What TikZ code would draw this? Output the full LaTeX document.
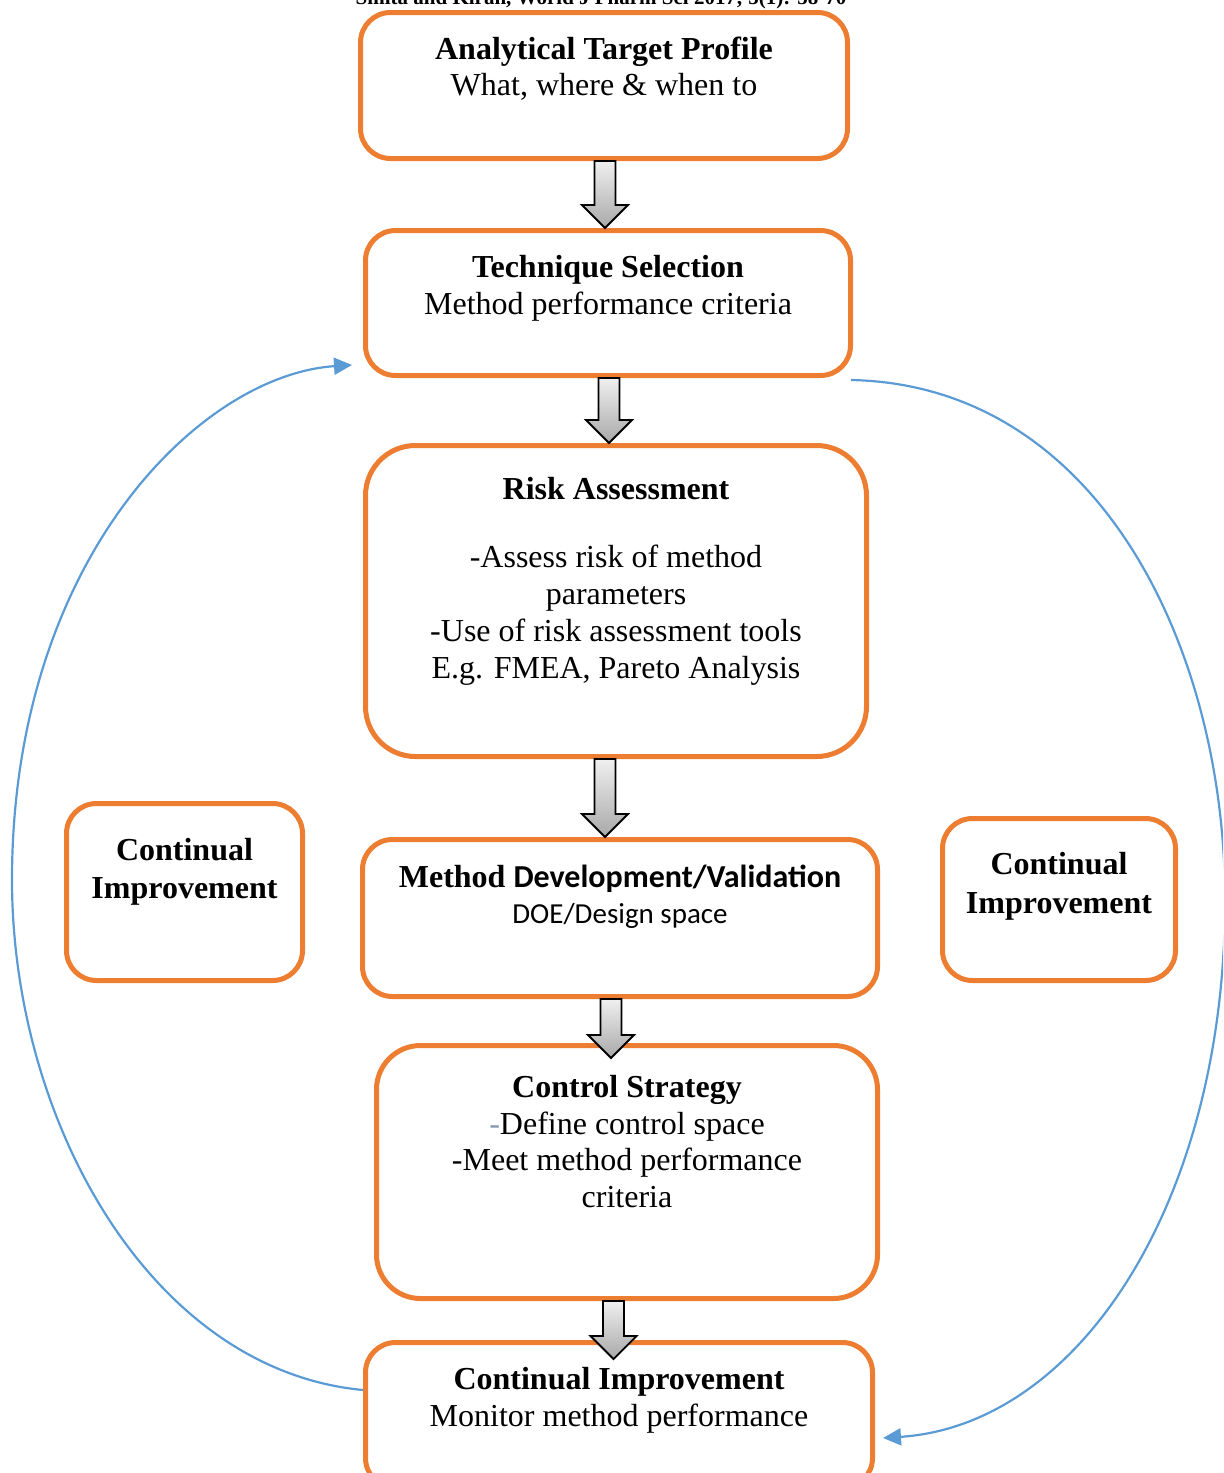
\documentclass[tikz,border=0pt]{standalone}
\usepackage{fontspec}
\setmainfont{Liberation Serif}
\newfontfamily\calibri{Carlito}
\usetikzlibrary{fit,calc,arrows.meta}
\definecolor{boxorange}{HTML}{ED7D31}
\definecolor{loopblue}{HTML}{5B9BD5}
\definecolor{dashblue}{HTML}{8497B0}

% grey block arrow from the bottom of one box to the top of the next
% #1 source node, #2 target node, #3 x position, #4 extra reach of the tip into the target
\newcommand\blockarrow[4]{%
  \path[blockarr] let \p1=(#1.south), \p2=(#2.north) in
    ({#3*0.5pt-5.25pt},\y1) -- ({#3*0.5pt+5.25pt},\y1)
    -- ({#3*0.5pt+5.25pt},{\y2-#4*0.5pt+11.5pt}) -- ({#3*0.5pt+11.5pt},{\y2-#4*0.5pt+11.5pt})
    -- ({#3*0.5pt},{\y2-#4*0.5pt})
    -- ({#3*0.5pt-11.5pt},{\y2-#4*0.5pt+11.5pt}) -- ({#3*0.5pt-5.25pt},{\y2-#4*0.5pt+11.5pt})
    -- cycle;}

\begin{document}
\begin{tikzpicture}[x=0.5pt,y=-0.5pt,
  box/.style={draw=boxorange, line width=2.5pt, rounded corners=15pt, inner sep=0pt},
  txt/.style={anchor=base, inner sep=0pt, font=\fontsize{16}{18.5}\selectfont},
  ttl/.style={anchor=base, inner sep=0pt, font=\fontsize{16}{18.5}\selectfont\bfseries},
  loop/.style={draw=loopblue, line width=1.1pt, -{Triangle[length=9pt,width=8.5pt]}},
  blockarr/.style={draw=black, line width=0.9pt, top color=black!6, bottom color=black!34, line join=miter}
]
\useasboundingbox (0,0) rectangle (1223,1473);
\clip (0,0) rectangle (1223,1473);

% running head
\node[anchor=base, inner sep=0pt, font=\fontsize{10.5}{12}\selectfont\bfseries] (hdr) at (601,4)
  {Smita and Kiran, World J Pharm Sci 2017; 5(1): 58-70};

% boxes
\node[box, fit={(360.5,12.5) (847.5,158.5)}] (atp) {};
\node[box, fit={(365.5,230.5) (850.5,375.5)}] (tech) {};
\node[box, rounded corners=25pt, fit={(365.5,445.5) (866.5,756.5)}] (risk) {};
\node[box, fit={(362.5,839.5) (877.5,996.5)}] (mdv) {};
\node[box, rounded corners=22pt, fit={(376.5,1045.5) (877.5,1298.5)}] (ctrl) {};
\node[box, fit={(365.5,1342.5) (872.5,1488)}] (ci) {};
\node[box, fit={(66.5,803.5) (302.5,980.5)}] (cil) {};
\node[box, fit={(942.5,818.5) (1175.5,980.5)}] (cir) {};

% texts
\node[ttl] (atpT) at (604,59) {Analytical Target Profile};
\node[txt] (atp1) at (604,95) {What, where \& when to};

\node[ttl] (techT) at (608,277) {Technique Selection};
\node[txt] (tech1) at (608,314) {Method performance criteria};

\node[ttl] (riskT) at (616,499) {Risk Assessment};
\node[txt] (risk1) at (616,567) {-Assess risk of method};
\node[txt] (risk2) at (616,604) {parameters};
\node[txt] (risk3) at (616,641) {-Use of risk assessment tools};
\node[txt] (risk4) at (616,678) {E.g. FMEA, Pareto Analysis};

\node[ttl] (mdvT) at (620,887) {Method {\calibri Development/Validation}};
\node[anchor=base, inner sep=0pt, font=\fontsize{14.5}{17}\selectfont\calibri] (mdv1) at (620,923) {DOE/Design space};

\node[ttl] (ctrlT) at (627,1097) {Control Strategy};
\node[txt] (ctrl1) at (627,1134) {\textcolor{dashblue}{-}Define control space};
\node[txt] (ctrl2) at (627,1170) {-Meet method performance};
\node[txt] (ctrl3) at (627,1207) {criteria};

\node[ttl] (ciT) at (619,1389) {Continual Improvement};
\node[txt] (ci1) at (619,1426) {Monitor method performance};

\node[ttl] (cilT) at (184.5,860) {Continual};
\node[ttl] (cil1) at (184.5,898) {Improvement};

\node[ttl] (cirT) at (1059,874) {Continual};
\node[ttl] (cir1) at (1059,913) {Improvement};

% block arrows
\blockarrow{atp}{tech}{605}{0}
\blockarrow{tech}{risk}{609}{0}
\blockarrow{risk}{mdv}{605}{0}
\blockarrow{mdv}{ctrl}{611}{15}
\blockarrow{ctrl}{ci}{613.5}{19}

% feedback loops
\draw[loop] ($(ci.north west)+(0,50)$)
  .. controls (150,1370) and (12,1120) .. (12,880)
  .. controls (12,560) and (200,375) .. ($(tech.south west)+(-11,-13)$);
\draw[loop] ($(tech.south east)+(-2,2)$)
  .. controls (1100,385) and (1225,650) .. (1225,900)
  .. controls (1225,1200) and (1080,1425) .. ($(ci.north east)+(8,98)$);
\end{tikzpicture}
\end{document}
